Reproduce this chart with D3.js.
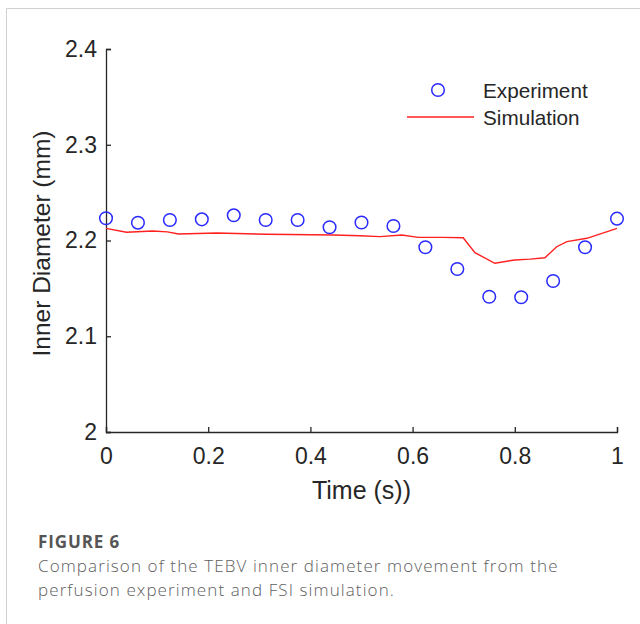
<!DOCTYPE html>
<html><head><meta charset="utf-8">
<script src="https://cdn.jsdelivr.net/npm/d3@7"></script>
<style>
html,body{margin:0;padding:0;background:#fff;}
svg{display:block;}
</style></head>
<body>
<svg id="chart" width="640" height="624"></svg>
<script>
// Experiment data (circles)
const expTime = [0,0.0625,0.125,0.1875,0.25,0.3125,0.375,0.4375,0.5,0.5625,0.625,0.6875,0.75,0.8125,0.875,0.9375,1];
const expDiam = [2.2232,2.2186,2.2214,2.2221,2.2263,2.2214,2.2214,2.2138,2.2188,2.2151,2.1929,2.1702,2.1413,2.1407,2.1577,2.1929,2.2228];
// Simulation data (line)
const simTime = [0,0.040,0.092,0.120,0.142,0.217,0.315,0.444,0.497,0.536,0.579,0.611,0.660,0.699,0.722,0.761,0.800,0.830,0.859,0.882,0.902,0.941,1.0];
const simDiam = [2.2127,2.2086,2.2099,2.2090,2.2068,2.2078,2.2065,2.2057,2.2050,2.2040,2.2057,2.2033,2.2033,2.2029,2.1873,2.1762,2.1797,2.1805,2.1820,2.1935,2.1988,2.2023,2.2127];
const xTicks = [0,0.2,0.4,0.6,0.8,1];
const yTicks = [2,2.1,2.2,2.3,2.4];
const legendLabels = ["Experiment","Simulation"];
const xLabel = "Time (s))";
const yLabel = "Inner Diameter (mm)";
const figTitle = "FIGURE 6";
const captionLines = ["Comparison of the TEBV inner diameter movement from the","perfusion experiment and FSI simulation."];

const svg = d3.select("#chart");
const font = "'Liberation Sans', Arial, sans-serif";

// page frame
svg.append("path").attr("d","M6.5,624 V8.5 H640").attr("fill","none").attr("stroke","#d0d0d0").attr("stroke-width",1);

const x = d3.scaleLinear().domain([0,1]).range([106,617]);
const y = d3.scaleLinear().domain([2,2.4]).range([432,49]);

const axisColor = "#262626";

// x axis
const gx = svg.append("g").attr("transform",`translate(0,${y(2)})`)
  .call(d3.axisBottom(x).tickValues(xTicks).tickSize(-5).tickPadding(16).tickFormat(d3.format("")));
// y axis
const gy = svg.append("g").attr("transform",`translate(${x(0)},0)`)
  .call(d3.axisLeft(y).tickValues(yTicks).tickSize(-5).tickPadding(9).tickFormat(d3.format("")));
[gx,gy].forEach(g=>{
  g.select(".domain").attr("stroke",axisColor).attr("stroke-width",1.3);
  g.selectAll(".tick line").attr("stroke",axisColor).attr("stroke-width",1.3);
  g.selectAll(".tick text").attr("fill","#262626").attr("font-family",font).attr("font-size",23);
});
gx.selectAll(".tick text").attr("dy","0.71em");

// axis labels
svg.append("text").attr("x",(x(0)+x(1))/2).attr("y",499).attr("text-anchor","middle")
  .attr("font-family",font).attr("font-size",25).attr("fill","#262626").text(xLabel);
svg.append("text").attr("transform",`translate(50,${(y(2)+y(2.4))/2+3}) rotate(-90)`).attr("text-anchor","middle")
  .attr("font-family",font).attr("font-size",24.5).attr("fill","#262626").text(yLabel);

// simulation line
const line = d3.line().x((d,i)=>x(simTime[i])).y(d=>y(d));
svg.append("path").datum(simDiam).attr("d",line).attr("fill","none").attr("stroke","#ff2020").attr("stroke-width",1.4);

// experiment circles
svg.append("g").selectAll("circle").data(expDiam).join("circle")
  .attr("cx",(d,i)=>x(expTime[i])).attr("cy",d=>y(d)).attr("r",6.3)
  .attr("fill","none").attr("stroke","#2a2aff").attr("stroke-width",1.5);

// legend
const lg = svg.append("g");
lg.append("circle").attr("cx",438).attr("cy",90).attr("r",6.3).attr("fill","none").attr("stroke","#2a2aff").attr("stroke-width",1.5);
lg.append("line").attr("x1",407).attr("x2",474).attr("y1",117).attr("y2",117).attr("stroke","#ff2020").attr("stroke-width",1.4);
lg.append("text").attr("x",483).attr("y",98).attr("font-family",font).attr("font-size",20.7).attr("fill","#262626").text(legendLabels[0]);
lg.append("text").attr("x",483).attr("y",125).attr("font-family",font).attr("font-size",20.7).attr("fill","#262626").text(legendLabels[1]);

// caption
const cf = "'Open Sans', 'Noto Sans', sans-serif";
svg.append("text").attr("x",38).attr("y",548).attr("font-family",cf).attr("font-weight",700).attr("font-size",17).attr("letter-spacing",0.9).attr("fill","#555").text(figTitle);
captionLines.forEach((t,i)=>{
  svg.append("text").attr("x",38).attr("y",572+i*24).attr("font-family",cf).attr("font-weight",300).attr("font-size",17).attr("letter-spacing",1.1).attr("fill","#5e5e5e").text(t);
});
</script>
</body></html>
